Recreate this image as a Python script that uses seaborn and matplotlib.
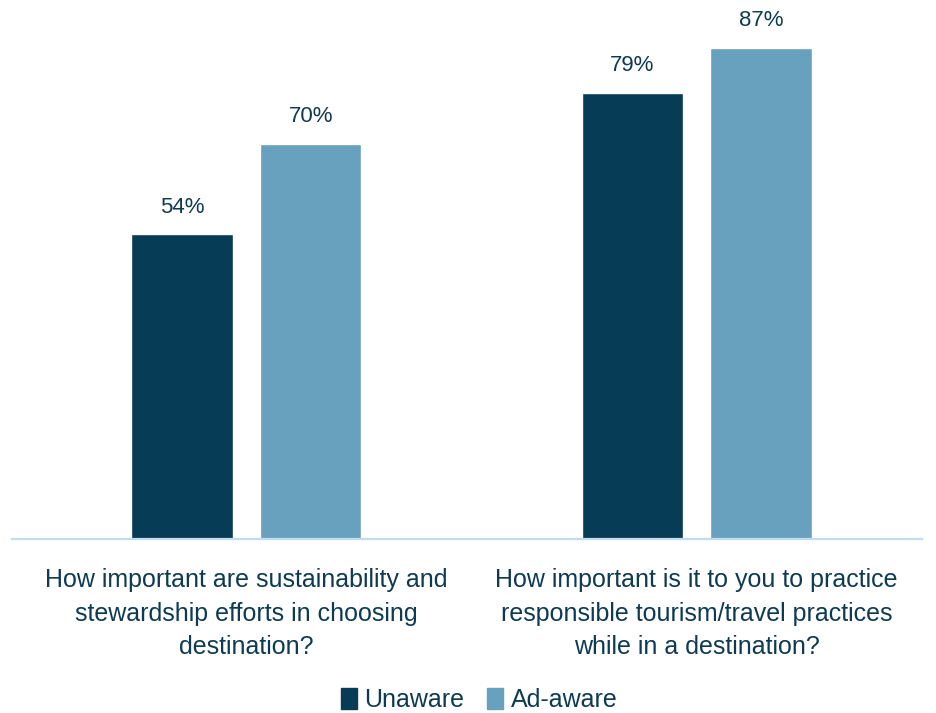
import matplotlib
matplotlib.use("Agg")
import matplotlib.pyplot as plt
import matplotlib.patches as mpatches
import seaborn as sns
import pandas as pd
from matplotlib import font_manager

questions = [
    "How important are sustainability and\nstewardship efforts in choosing\ndestination?",
    "How important is it to you to practice\nresponsible tourism/travel practices\nwhile in a destination?",
]
groups = ["Unaware", "Ad-aware"]
unaware = [54, 79]
ad_aware = [70, 87]

colors = {"Unaware": "#063C56", "Ad-aware": "#67A1BD"}
text_color = "#0E3B52"

sns.set_theme(style="white")
installed = {f.name for f in font_manager.fontManager.ttflist}
family = ["Liberation Sans Narrow", "Liberation Sans", "DejaVu Sans"]
family = [f for f in family if f in installed] or ["DejaVu Sans"]
plt.rcParams["font.family"] = family

df = pd.DataFrame({
    "question": questions * 2,
    "group": [groups[0]] * 2 + [groups[1]] * 2,
    "value": unaware + ad_aware,
})

fig = plt.figure(figsize=(9.37, 7.13), dpi=100)
H = 713
ax = fig.add_axes([12 / 937, (H - 539) / H, 910 / 937, 529 / H])

sns.barplot(data=df, x="question", y="value", hue="group", order=questions,
            hue_order=groups, palette=colors, width=0.571, gap=0.21,
            saturation=1, ax=ax, legend=False)

ax.set_xlim(-0.521, 1.501)
ax.set_ylim(0, 529 / 5.645)

for cont in ax.containers:
    ax.bar_label(cont, labels=[f"{v:g}%" for v in cont.datavalues],
                 padding=12, fontsize=16, color=text_color)

ax.set_xlabel("")
ax.set_ylabel("")
ax.set_yticks([])
ax.tick_params(axis="x", length=0, pad=21, labelsize=18, labelcolor=text_color)
for lab in ax.get_xticklabels():
    lab.set_linespacing(1.5)
for s in ["left", "right", "top"]:
    ax.spines[s].set_visible(False)
ax.spines["bottom"].set_color("#BFDDEF")
ax.spines["bottom"].set_linewidth(1.6)

handles = [mpatches.Patch(color=colors[g], label=g) for g in groups]
fig.legend(handles=handles, loc="center", bbox_to_anchor=(479 / 937, (H - 700) / H),
           ncol=2, frameon=False, fontsize=18, handlelength=0.65, handleheight=0.9,
           handletextpad=0.3, columnspacing=0.9, labelcolor=text_color)

fig.savefig("out.png", dpi=100, facecolor="white")
